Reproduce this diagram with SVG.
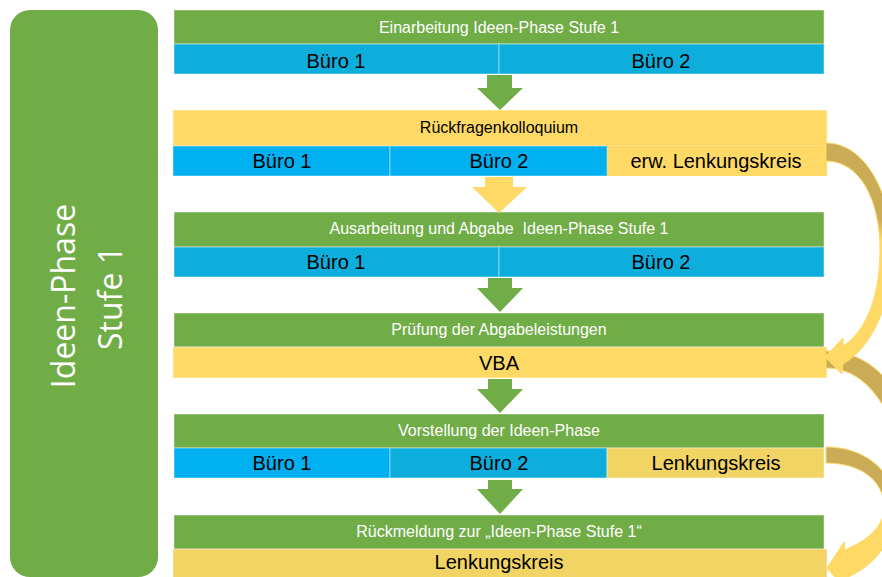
<svg xmlns="http://www.w3.org/2000/svg" width="882" height="577" viewBox="0 0 882 577">
<defs>
<style>
.g{fill:#70AD47;stroke:#FFFFFF;stroke-opacity:0.45;stroke-width:1}
.b{fill:#0EAEDC;stroke:#FFFFFF;stroke-opacity:0.45;stroke-width:1}
.bb{fill:#00B0F0;stroke:#FFFFFF;stroke-opacity:0.45;stroke-width:1}
.y{fill:#FFD966;stroke:#FFFFFF;stroke-opacity:0.45;stroke-width:1}
.yd{fill:#F1D463;stroke:#FFFFFF;stroke-opacity:0.45;stroke-width:1}
.h{font-family:"Liberation Sans",Arial,sans-serif;font-size:16px;fill:#FFFFFF;text-anchor:middle}
.hk{font-family:"Liberation Sans",Arial,sans-serif;font-size:16px;fill:#000000;text-anchor:middle}
.c{font-family:"Liberation Sans",Arial,sans-serif;font-size:20px;fill:#000000;text-anchor:middle}
.side{font-family:"Open Sans","DejaVu Sans",sans-serif;font-size:32px;fill:#FFFFFF;text-anchor:middle}
.ga{fill:#70AD47}
.ya{fill:#FFD966}
.ca{stroke:#FFD966;stroke-width:1}
</style>
<linearGradient id="cg" x1="0" y1="0" x2="0" y2="1">
<stop offset="0" stop-color="#C9AC55"/>
<stop offset="0.33" stop-color="#C9AC55"/>
<stop offset="0.42" stop-color="#FFD966"/>
<stop offset="1" stop-color="#FFD966"/>
</linearGradient>
</defs>

<g id="side">
<rect x="10" y="10" width="148" height="567" rx="20" ry="20" fill="#70AD47"/>
<text class="side" transform="translate(75,296) rotate(-90)">Ideen-Phase</text>
<text class="side" transform="translate(122,298) rotate(-90)">Stufe 1</text>
</g>

<g id="row1">
<rect class="g" x="174" y="10" width="650" height="34"/>
<text class="h" x="499" y="33">Einarbeitung Ideen-Phase Stufe 1</text>
<rect class="b" x="174" y="44" width="325" height="30"/>
<rect class="b" x="499" y="44" width="325" height="30"/>
<text class="c" x="336" y="68">Büro 1</text>
<text class="c" x="661" y="68">Büro 2</text>
</g>

<g id="row2">
<rect class="y" x="173" y="110" width="654" height="36"/>
<text class="hk" x="499" y="133">Rückfragenkolloquium</text>
<rect class="bb" x="173" y="146" width="217" height="30"/>
<rect class="bb" x="390" y="146" width="217" height="30"/>
<rect class="y" x="607" y="146" width="220" height="30" style="stroke:none"/>
<text class="c" x="282" y="168">Büro 1</text>
<text class="c" x="499" y="168">Büro 2</text>
<text class="c" x="716" y="168">erw. Lenkungskreis</text>
</g>

<g id="row3">
<rect class="g" x="174" y="212" width="650" height="35"/>
<text class="h" x="499" y="234" xml:space="preserve">Ausarbeitung und Abgabe  Ideen-Phase Stufe 1</text>
<rect class="b" x="174" y="247" width="325" height="30"/>
<rect class="b" x="499" y="247" width="325" height="30"/>
<text class="c" x="336" y="269">Büro 1</text>
<text class="c" x="661" y="269">Büro 2</text>
</g>

<g id="row4">
<rect class="g" x="174" y="313" width="650" height="34"/>
<text class="h" x="499" y="335">Prüfung der Abgabeleistungen</text>
<rect class="y" x="173" y="347" width="654" height="31"/>
<text class="c" x="499" y="370">VBA</text>
</g>

<g id="row5">
<rect class="g" x="174" y="414" width="650" height="34"/>
<text class="h" x="499" y="436">Vorstellung der Ideen-Phase</text>
<rect class="bb" x="174" y="448" width="216" height="30"/>
<rect class="b" x="390" y="448" width="217" height="30"/>
<rect class="yd" x="607" y="448" width="217" height="30"/>
<text class="c" x="282" y="470">Büro 1</text>
<text class="c" x="499" y="470">Büro 2</text>
<text class="c" x="716" y="470">Lenkungskreis</text>
</g>

<g id="row6">
<rect class="g" x="174" y="515" width="650" height="34"/>
<text class="h" x="499" y="537">Rückmeldung zur „Ideen-Phase Stufe 1“</text>
<rect class="yd" x="173" y="549" width="654" height="30"/>
<text class="c" x="499" y="569">Lenkungskreis</text>
</g>

<g id="connectors">
<path class="ga" d="M487,75 H512 V88 H523 L500,110 L477,88 H487 Z"/>
<path class="ya" d="M485,177 H513 V187 H527 L499,213 L472,187 H485 Z"/>
<path class="ga" d="M488,278 H512 V288 H523 L500,312 L477,288 H488 Z"/>
<path class="ga" d="M488,379 H512 V389 H523 L500,413 L477,389 H488 Z"/>
<path class="ga" d="M488,480 H512 V489 H523 L500,514 L477,489 H488 Z"/>
<path class="ca" fill="#C9AC55" d="M826,351 C862,351 890,374 906,412 L891,421 C877,390 856,368 826,368 Z"/>
<path class="ca" fill="url(#cg)" d="M826,143 C866,143 892,195 892,250 C892,305 872,347 843,364 L842,374 L825,357 L843,338 L843,346 C864,333 880,300 880,250 C880,200 860,161 826,161 Z"/>
<path class="ca" fill="url(#cg)" d="M826,447 C866,447 895,472 895,507 C895,542 874,566 846,578 L846,590 L827,568 L844,542 L845,550 C868,540 884,527 884,507 C884,480 860,463 826,463 Z"/>
</g>
</svg>
